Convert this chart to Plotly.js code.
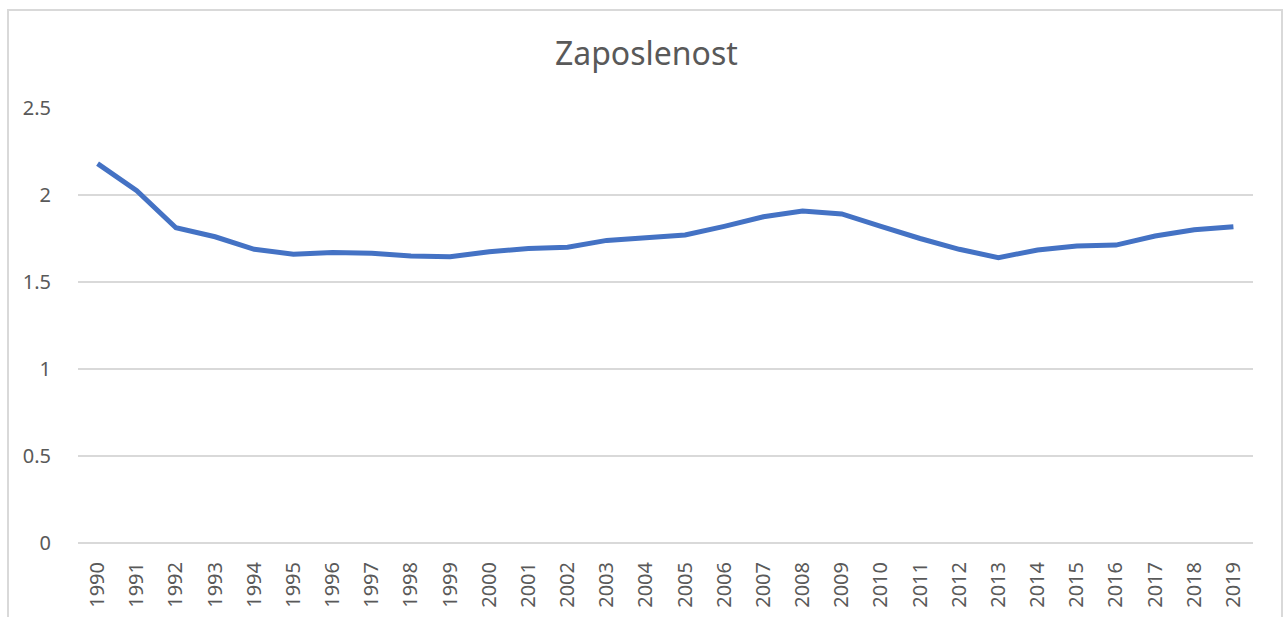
<!DOCTYPE html>
<html>
<head>
<meta charset="utf-8">
<script src="https://cdn.plot.ly/plotly-3.0.1.min.js"></script>
<style>
html,body{margin:0;padding:0;background:#fff;}
#chart{position:absolute;left:0;top:0;width:1285px;height:617px;}
#frame{position:absolute;left:7px;top:9px;width:1276px;height:620px;border:2px solid #d9d9d9;pointer-events:none;box-sizing:border-box;}
</style>
</head>
<body>
<div id="chart"></div>
<div id="frame"></div>
<script>
const years = ["1990","1991","1992","1993","1994","1995","1996","1997","1998","1999",
  "2000","2001","2002","2003","2004","2005","2006","2007","2008","2009",
  "2010","2011","2012","2013","2014","2015","2016","2017","2018","2019"];
const zaposlenost = [2.18,2.025,1.812,1.76,1.688,1.66,1.67,1.665,1.649,1.645,
  1.674,1.693,1.70,1.739,1.754,1.77,1.82,1.875,1.908,1.891,
  1.82,1.75,1.688,1.64,1.684,1.707,1.712,1.764,1.80,1.818];
const yTicks = [0,0.5,1,1.5,2,2.5];
const yTickLabels = ["0","0.5","1","1.5","2","2.5"];
const titleText = "Zaposlenost";

const font = "Noto Sans, Liberation Sans, sans-serif";
Plotly.newPlot('chart', [{
  x: years, y: zaposlenost, type: 'scatter', mode: 'lines',
  line: {color: '#4472C4', width: 5}, hoverinfo: 'x+y'
}], {
  width: 1285, height: 617,
  margin: {l: 78, r: 32, t: 108, b: 74, pad: 0},
  paper_bgcolor: '#fff', plot_bgcolor: '#fff',
  showlegend: false,
  title: {text: titleText, font: {family: font, size: 32, color: '#595959'},
    x: 0.503, xref: 'container', xanchor: 'center', y: 1 - 54/617, yref: 'container', yanchor: 'middle'},
  xaxis: {type: 'category', tickvals: years, ticktext: years, tickangle: -90,
    range: [-0.5, years.length - 0.5],
    showgrid: false, zeroline: false, showline: false,
    ticks: 'outside', ticklen: 10, tickcolor: 'rgba(0,0,0,0)',
    tickfont: {family: font, size: 20, color: '#595959'}, fixedrange: true},
  yaxis: {range: [0, 2.5], tickvals: yTicks, ticktext: yTickLabels,
    showgrid: true, gridcolor: '#d9d9d9', gridwidth: 1.5,
    zeroline: true, zerolinecolor: '#d9d9d9', zerolinewidth: 1.5, showline: false,
    ticks: 'outside', ticklen: 22, tickcolor: 'rgba(0,0,0,0)',
    tickfont: {family: font, size: 20, color: '#595959'}, fixedrange: true}
}, {displayModeBar: false, staticPlot: true});
</script>
</body>
</html>
